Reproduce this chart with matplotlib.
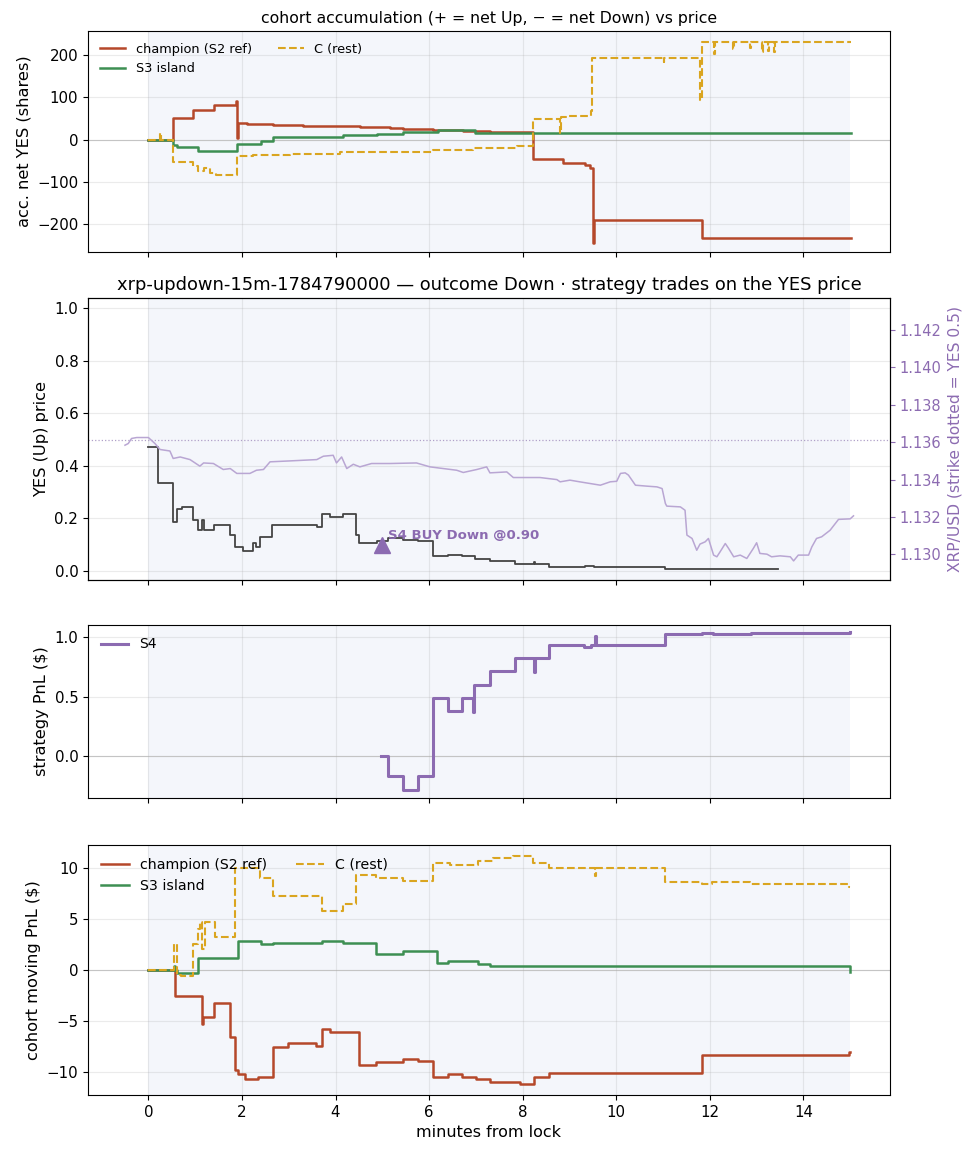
import matplotlib
matplotlib.use("Agg")
import matplotlib.pyplot as plt

# ---- panel 1: cohort accumulation (shares) ----
acc_t_champ = [0, 0.53, 0.96, 1.40, 1.88, 1.90, 1.91, 2.10, 2.67, 3.31, 4.52, 5.16, 5.45, 6.09,
               6.73, 7.30, 8.23, 8.86, 9.34, 9.44, 9.50, 9.52, 11.84, 15.02]
acc_champ = [0, 52, 71, 83, 91, 4, 40, 37, 34, 32, 29, 27, 25, 22,
             20, 18, -46, -56, -61, -66, -244, -190, -232, -232]

acc_t_s3 = [0, 0.53, 0.62, 1.07, 1.89, 2.40, 2.67, 4.17, 4.88, 5.45, 6.20, 6.98, 15.02]
acc_s3 = [0, -12, -18, -26, -10, -2, 6, 10, 14, 17.5, 22, 16, 16]

acc_t_c = [0, 0.25, 0.27, 0.53, 0.96, 1.07, 1.18, 1.31, 1.45, 1.89, 2.24, 3.03, 4.10, 5.16,
           6.09, 6.94, 7.87, 8.23, 8.80, 8.82, 8.95, 9.46, 9.49, 11.01, 11.03, 11.79, 11.84,
           12.08, 12.10, 12.50, 12.52, 12.86, 12.88, 13.12, 13.14, 13.25, 13.27, 13.38, 13.40, 15.02]
acc_c = [0, 16, 0, -52, -63, -73, -66, -78, -83, -38, -36, -34, -30, -28,
         -24, -20, -16, 48, 17, 54, 57, 67, 193, 185, 193, 93, 232,
         202, 232, 216, 232, 218, 232, 208, 232, 210, 232, 208, 232, 232]

# ---- panel 2: YES price and XRP spot ----
yes_t = [0, 0.21, 0.53, 0.62, 0.71, 0.95, 1.07, 1.14, 1.18, 1.40, 1.75, 1.85, 2.03, 2.23,
         2.30, 2.39, 2.64, 3.60, 3.72, 3.88, 4.15, 4.43, 4.51, 4.88, 5.13, 5.45, 5.77, 6.08,
         6.41, 6.70, 6.99, 7.30, 7.83, 8.25, 8.27, 8.57, 9.34, 9.52, 11.05, 13.45]
yes_price = [0.473, 0.336, 0.187, 0.234, 0.244, 0.194, 0.155, 0.194, 0.155, 0.174, 0.136, 0.092,
             0.077, 0.105, 0.090, 0.128, 0.174, 0.168, 0.216, 0.206, 0.216, 0.136, 0.105, 0.114,
             0.124, 0.119, 0.115, 0.056, 0.061, 0.056, 0.046, 0.039, 0.026, 0.035, 0.026, 0.016,
             0.019, 0.016, 0.007, 0.007]

xrp_t = [-0.50, -0.43, -0.36, -0.25, 0.0, 0.14, 0.25, 0.46, 0.53, 0.68, 0.89, 1.10, 1.18, 1.39,
         1.60, 1.75, 1.89, 2.17, 2.31, 2.46, 2.60, 3.03, 3.60, 3.74, 3.95, 4.02, 4.13, 4.24,
         4.38, 4.52, 4.77, 5.16, 5.73, 6.02, 6.59, 6.73, 7.02, 7.23, 7.30, 7.66, 7.80, 8.37,
         8.73, 8.80, 9.01, 9.22, 9.66, 9.87, 10.01, 10.09, 10.19, 10.26, 10.41, 10.65, 10.87,
         10.98, 11.05, 11.08, 11.37, 11.47, 11.51, 11.62, 11.72, 11.79, 11.90, 11.97, 12.08,
         12.15, 12.22, 12.33, 12.40, 12.51, 12.65, 12.79, 12.93, 13.00, 13.07, 13.22, 13.32,
         13.50, 13.72, 13.79, 13.89, 14.11, 14.18, 14.28, 14.39, 14.57, 14.75, 15.00, 15.07]
xrp_usd = [1.13584, 1.13593, 1.13620, 1.13625, 1.13625, 1.13593, 1.13561, 1.13553, 1.13513,
           1.13521, 1.13507, 1.13472, 1.13489, 1.13486, 1.13454, 1.13459, 1.13433, 1.13433,
           1.13450, 1.13454, 1.13495, 1.13500, 1.13507, 1.13525, 1.13530, 1.13489, 1.13521,
           1.13459, 1.13482, 1.13468, 1.13486, 1.13486, 1.13489, 1.13468, 1.13450, 1.13438,
           1.13454, 1.13468, 1.13436, 1.13441, 1.13411, 1.13411, 1.13400, 1.13388, 1.13397,
           1.13388, 1.13370, 1.13388, 1.13391, 1.13433, 1.13436, 1.13424, 1.13370, 1.13365,
           1.13361, 1.13352, 1.13272, 1.13258, 1.13254, 1.13236, 1.13103, 1.13085, 1.13022,
           1.13055, 1.13067, 1.13085, 1.12996, 1.12987, 1.13014, 1.13058, 1.13032, 1.12987,
           1.12996, 1.12978, 1.13032, 1.13062, 1.13005, 1.13001, 1.12987, 1.12992, 1.12987,
           1.12965, 1.12996, 1.12996, 1.13040, 1.13085, 1.13094, 1.13129, 1.13187, 1.13190,
           1.13206]
strike_yes = 0.5
buy_t, buy_price = 5.0, 0.10

# ---- panel 3: strategy PnL ----
s4_t = [4.97, 5.12, 5.44, 5.77, 6.09, 6.40, 6.71, 6.93, 6.95, 7.30, 7.83, 8.25, 8.27, 8.57,
        9.32, 9.45, 9.55, 9.57, 11.05, 11.84, 12.07, 12.87, 15.0]
s4_pnl = [0.0, -0.17, -0.29, -0.17, 0.49, 0.38, 0.49, 0.37, 0.60, 0.716, 0.824, 0.705, 0.824,
          0.932, 0.92, 0.932, 1.01, 0.932, 1.028, 1.04, 1.028, 1.037, 1.045]

# ---- panel 4: cohort moving PnL ----
pnl_t_champ = [0, 0.56, 1.15, 1.17, 1.41, 1.75, 1.85, 1.91, 2.06, 2.35, 2.67, 2.98, 3.58, 3.72,
               3.88, 4.51, 4.87, 5.45, 5.77, 6.09, 6.41, 6.70, 7.00, 7.30, 7.94, 8.24, 8.57,
               11.84, 14.98, 15.0]
pnl_champ = [0, -2.5, -5.3, -4.6, -3.25, -6.56, -9.8, -10.2, -10.7, -10.45, -7.53, -7.14, -7.47,
             -5.78, -6.07, -9.32, -8.99, -8.70, -8.93, -10.45, -10.23, -10.45, -10.65, -10.94,
             -11.14, -10.45, -10.06, -8.31, -8.05, -8.05]

pnl_t_s3 = [0, 0.55, 0.57, 0.62, 1.07, 1.91, 2.40, 2.66, 3.72, 4.16, 4.87, 5.45, 6.16, 6.41,
            7.04, 7.30, 14.99, 15.0]
pnl_s3 = [0, 0.4, 0, -0.26, 1.23, 2.82, 2.53, 2.66, 2.86, 2.66, 1.62, 1.85, 0.65, 0.88,
          0.58, 0.39, -0.16, -0.16]

pnl_t_c = [0, 0.55, 0.62, 0.70, 0.95, 1.05, 1.10, 1.15, 1.20, 1.42, 1.86, 2.39, 2.66, 3.72,
           4.17, 4.43, 4.87, 5.45, 6.08, 6.45, 7.04, 7.37, 7.80, 8.23, 8.57, 9.55, 9.57, 11.04,
           11.84, 12.05, 12.86, 14.98, 15.0]
pnl_c = [0, 2.6, -0.49, -0.58, 2.6, 4.06, 4.7, 2.1, 4.7, 3.25, 10.06, 9.0, 7.24, 5.84,
         6.5, 9.35, 9.0, 8.77, 10.55, 10.3, 10.7, 10.97, 11.17, 10.55, 10.06, 9.25, 10.06, 8.6,
         8.44, 8.6, 8.44, 8.18, 8.18]

C_CHAMP = "#b5482a"
C_S3 = "#3d8f52"
C_REST = "#daa520"
C_PURPLE = "#8c6bb1"
C_XRP = "#b9a6d3"
C_SPAN = "#eef0f9"
LABEL_FS = 11.7
TICK_FS = 10.8

fig = plt.figure(figsize=(9.78, 11.56), dpi=100)
L, W = 0.090, 0.820
ax1 = fig.add_axes([L, 0.782, W, 0.191])
ax2 = fig.add_axes([L, 0.4983, W, 0.244], sharex=ax1)
ax3 = fig.add_axes([L, 0.3097, W, 0.1497], sharex=ax1)
ax4 = fig.add_axes([L, 0.0528, W, 0.2163], sharex=ax1)

for ax in (ax1, ax2, ax3, ax4):
    ax.axvspan(0, 15, color=C_SPAN, alpha=0.6, lw=0, zorder=0)
    ax.grid(True, alpha=0.25)
    ax.tick_params(labelsize=TICK_FS)
for ax in (ax1, ax3, ax4):
    ax.axhline(0, color="#cccccc", lw=0.8, zorder=1)
for ax in (ax1, ax2, ax3):
    ax.tick_params(labelbottom=False)

# panel 1
ax1.step(acc_t_champ, acc_champ, where="post", color=C_CHAMP, lw=1.8, label="champion (S2 ref)")
ax1.step(acc_t_s3, acc_s3, where="post", color=C_S3, lw=1.8, label="S3 island")
ax1.step(acc_t_c, acc_c, where="post", color=C_REST, lw=1.5, ls="--", label="C (rest)")
ax1.set_ylim(-266, 257)
ax1.set_ylabel("acc. net YES (shares)", fontsize=LABEL_FS)
ax1.set_title("cohort accumulation (+ = net Up, \u2212 = net Down) vs price", fontsize=11.3)
ax1.legend(loc="upper left", ncol=2, fontsize=9.3, frameon=False)

# panel 2
ax2.step(yes_t, yes_price, where="post", color="#444444", lw=1.3)
ax2.axhline(strike_yes, color="#b0a0c8", ls=":", lw=0.9)
ax2.plot([buy_t], [buy_price], marker="^", ms=11, color=C_PURPLE, ls="none", zorder=5)
ax2.annotate("S4 BUY Down @0.90", (buy_t, buy_price), xytext=(4, 6.5), textcoords="offset points",
             color=C_PURPLE, fontsize=9.5, fontweight="bold", va="center")
ax2.set_ylim(-0.035, 1.04)
ax2.set_ylabel("YES (Up) price", fontsize=LABEL_FS)
ax2.set_title("xrp-updown-15m-1784790000 \u2014 outcome Down \u00b7 strategy trades on the YES price",
              fontsize=12.9)
ax2r = ax2.twinx()
ax2r.plot(xrp_t, xrp_usd, color=C_XRP, lw=1.1)
ax2r.set_ylim(1.12863, 1.14372)
ax2r.set_ylabel("XRP/USD (strike dotted = YES 0.5)", color=C_PURPLE, fontsize=11.2)
ax2r.tick_params(axis="y", colors=C_PURPLE, labelsize=10.5)

# panel 3
ax3.step(s4_t, s4_pnl, where="post", color=C_PURPLE, lw=2.2, label="S4")
ax3.set_ylim(-0.355, 1.105)
ax3.set_yticks([0.0, 0.5, 1.0])
ax3.set_ylabel("strategy PnL ($)", fontsize=LABEL_FS)
ax3.legend(loc="upper left", fontsize=10, frameon=False)

# panel 4
ax4.step(pnl_t_champ, pnl_champ, where="post", color=C_CHAMP, lw=1.8, label="champion (S2 ref)")
ax4.step(pnl_t_s3, pnl_s3, where="post", color=C_S3, lw=1.8, label="S3 island")
ax4.step(pnl_t_c, pnl_c, where="post", color=C_REST, lw=1.5, ls="--", label="C (rest)")
ax4.set_ylim(-12.25, 12.28)
ax4.set_ylabel("cohort moving PnL ($)", fontsize=LABEL_FS)
ax4.set_xlabel("minutes from lock", fontsize=11.5)
ax4.legend(loc="upper left", ncol=2, fontsize=10.2, frameon=False)

ax1.set_xlim(-1.29, 15.85)
ax1.set_xticks([0, 2, 4, 6, 8, 10, 12, 14])

fig.savefig("out.png", dpi=100)
plt.close(fig)
